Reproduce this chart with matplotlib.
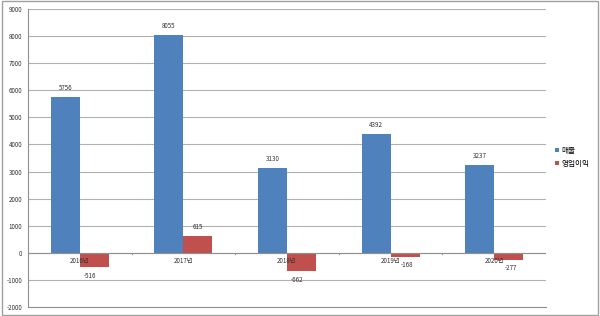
import numpy as np
import matplotlib.pyplot as plt
from matplotlib.patches import Rectangle

plt.rcParams['font.family'] = ['Noto Sans CJK KR', 'DejaVu Sans']
plt.rcParams['axes.unicode_minus'] = False

years = ["2016년", "2017년", "2018년", "2019년", "2020년"]
sales = [5756, 8055, 3130, 4392, 3237]
profit = [-516, 615, -662, -168, -277]

blue = '#4F81BD'
red = '#C0504D'

fig = plt.figure(figsize=(6, 3.16), dpi=100)
ax = fig.add_axes([28 / 600, 9 / 316, 518 / 600, 298 / 316])

x = np.arange(len(years))
w = 0.28
ax.bar(x - w / 2, sales, w, color=blue, label='매출')
ax.bar(x + w / 2, profit, w, color=red, label='영업이익')

for i in x:
    ax.text(i - w / 2, sales[i] + 180, str(sales[i]), ha='center', va='bottom', fontsize=4.5, color='#333333')
    p = profit[i]
    if p >= 0:
        ax.text(i + w / 2, p + 180, str(p), ha='center', va='bottom', fontsize=4.5, color='#333333')
    elif p > -300:
        ax.text(i + w / 2 + 0.02, p - 120, str(p), ha='center', va='top', fontsize=4.5, color='#333333')
    else:
        ax.text(i + w / 2 - 0.04, p - 200, str(p), ha='center', va='top', fontsize=4.5, color='#333333')
    ax.text(i, -150, years[i], ha='center', va='top', fontsize=4.5, color='#333333')

ax.set_xlim(-0.5, len(years) - 0.5)
ax.set_ylim(-2000, 9000)
ax.set_yticks(range(-2000, 9001, 1000))
ax.tick_params(axis='y', labelsize=4.5, length=0, colors='#333333', pad=4)
ax.set_xticks([])
ax.grid(axis='y', color='#b0b0b0', linewidth=0.8)
ax.set_axisbelow(True)
for s in ['top', 'right']:
    ax.spines[s].set_visible(False)
ax.spines['left'].set_color('#909090')
ax.spines['bottom'].set_color('#909090')
ax.axhline(0, color='#909090', linewidth=0.8)
for b in np.arange(0.5, len(years) - 0.5, 1.0):
    ax.plot([b, b], [0, -60], color='#909090', linewidth=0.8)

ax.legend(loc='upper left', bbox_to_anchor=(1.005, 0.56), frameon=False, fontsize=5.5,
          handlelength=0.5, handleheight=0.5, handletextpad=0.3, labelspacing=0.6)

fig.patches.append(Rectangle((0.003, 0.004), 0.994, 0.992, transform=fig.transFigure,
                             fill=False, edgecolor='#a0a0a0', linewidth=1))

fig.savefig('out.png', dpi=100)
